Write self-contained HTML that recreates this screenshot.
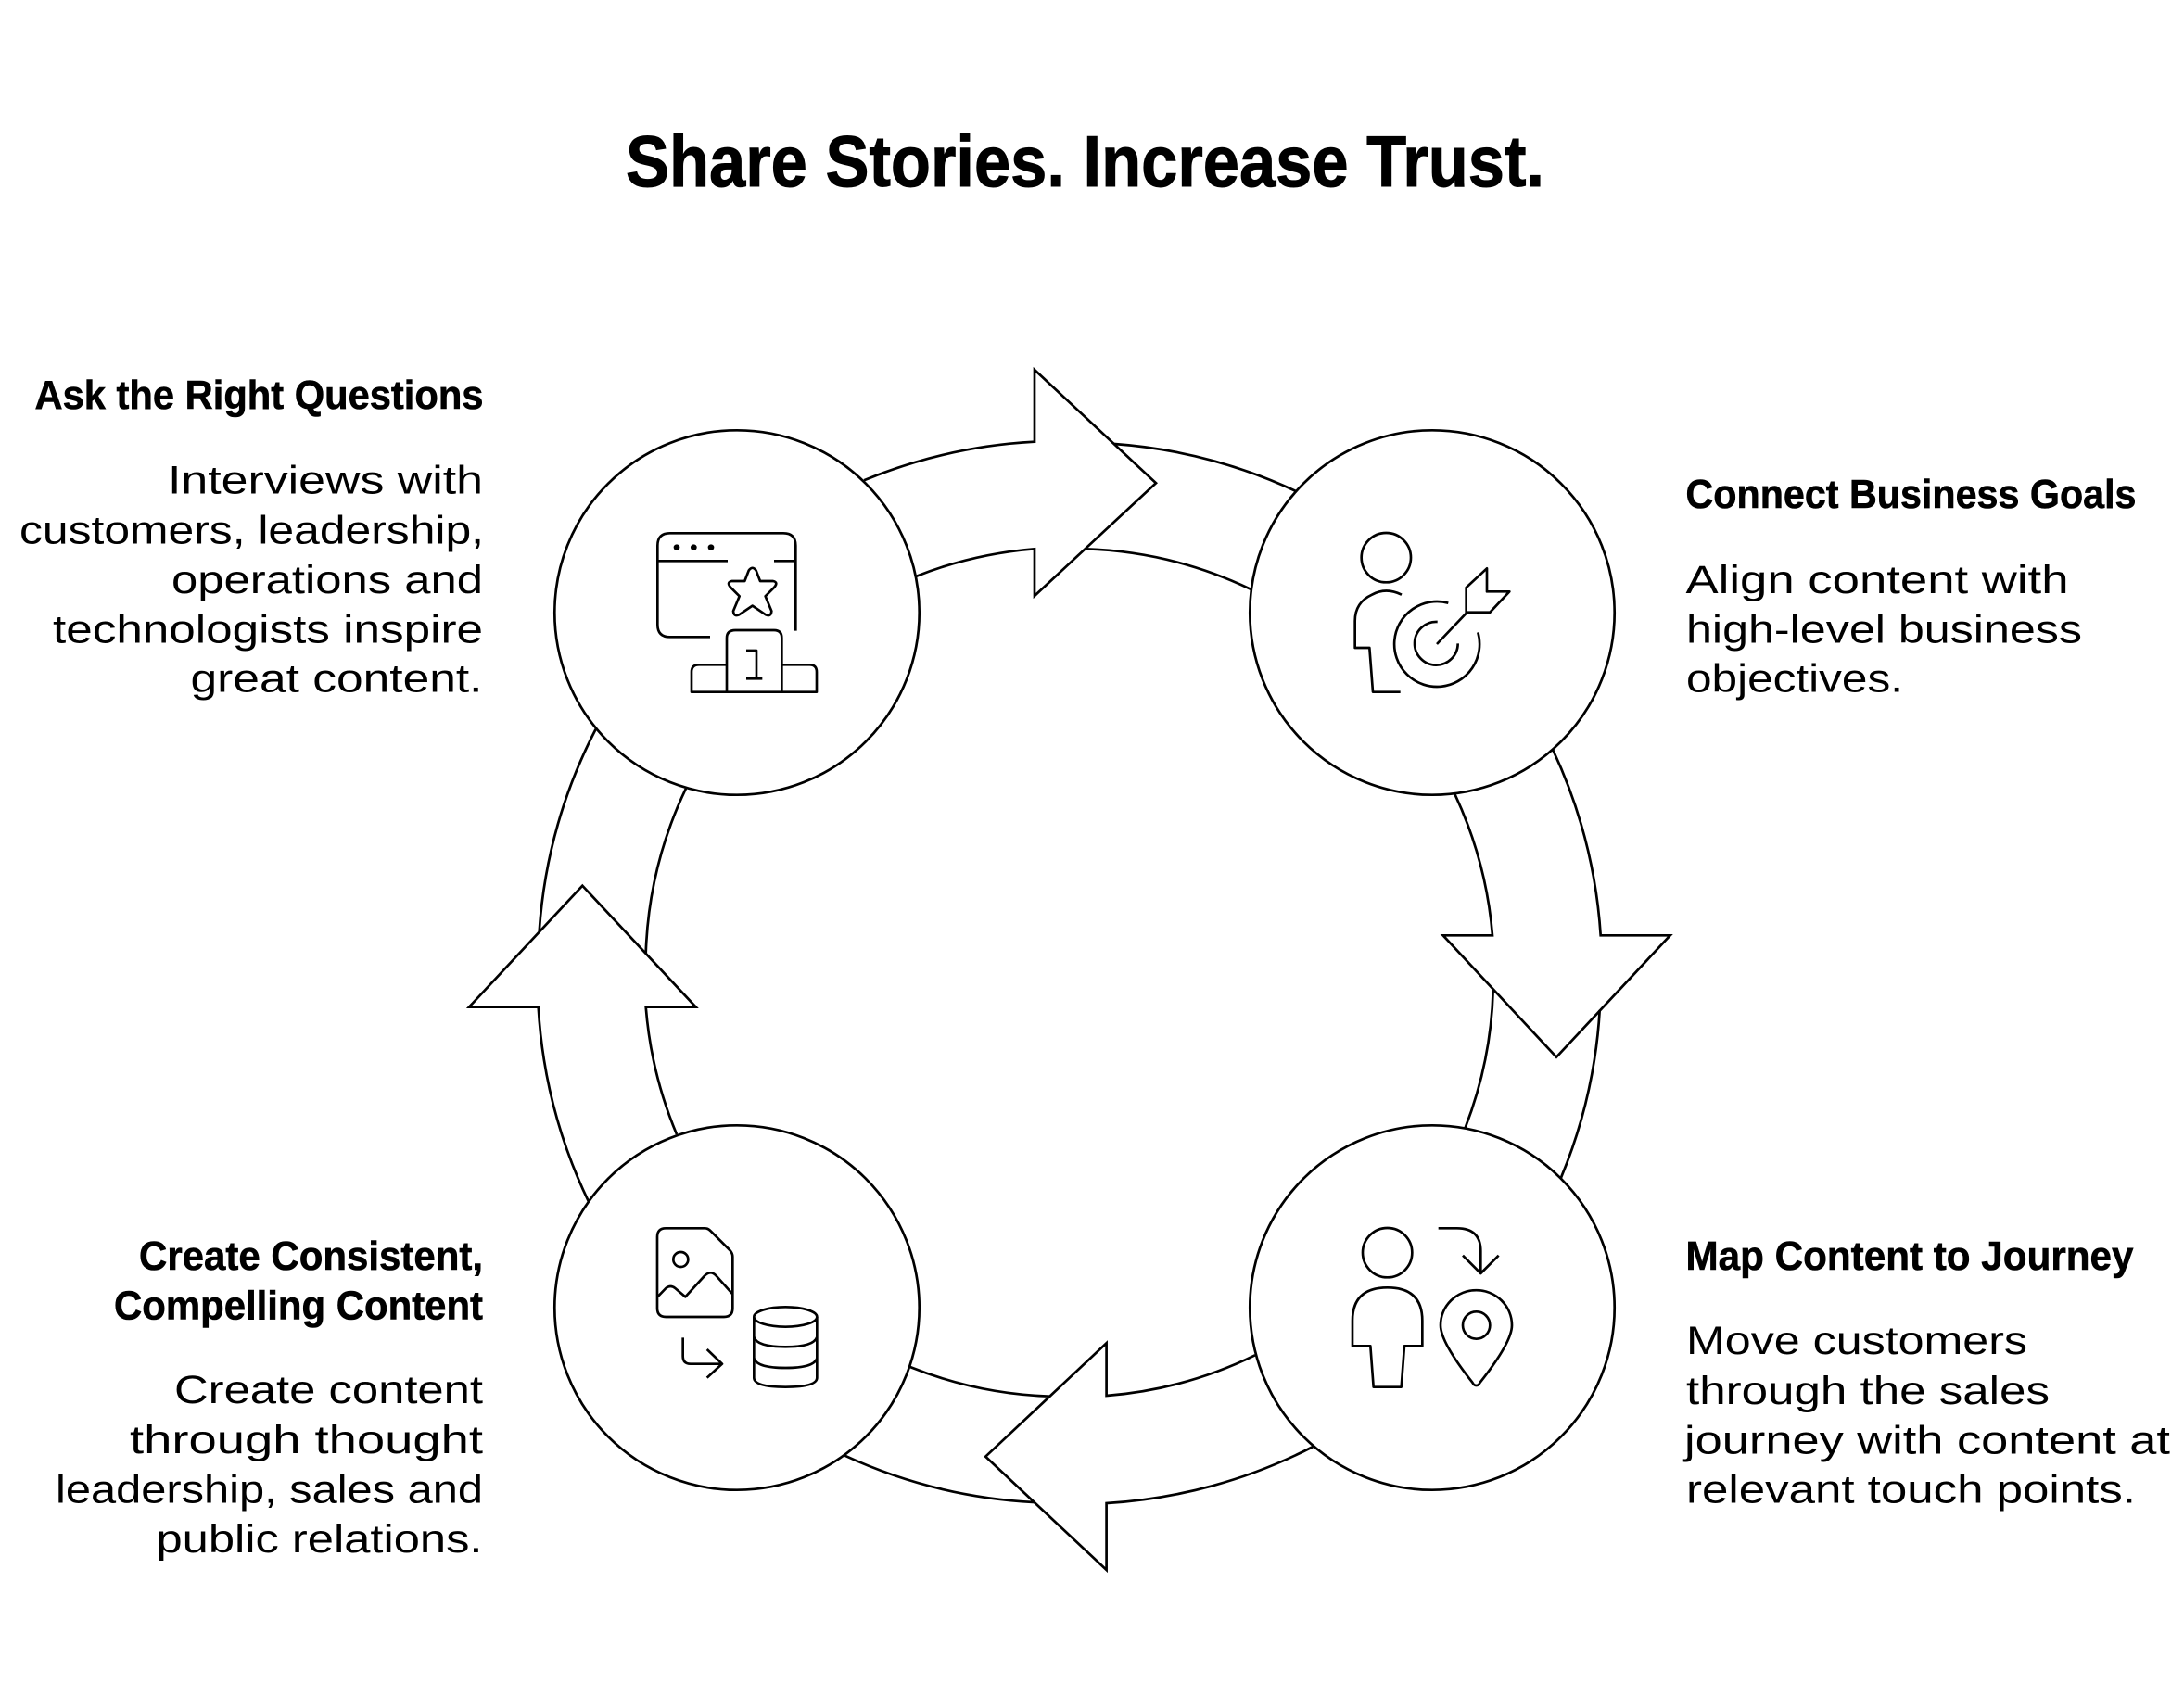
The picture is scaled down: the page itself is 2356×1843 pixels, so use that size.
<!DOCTYPE html>
<html lang="en">
<head>
<meta charset="utf-8">
<title>Share Stories. Increase Trust.</title>
<style>
html,body{margin:0;padding:0;background:#fff;width:2356px;height:1843px;overflow:hidden}
svg{display:block}
.l{fill:none;stroke:#000;stroke-width:2.7;stroke-linejoin:miter;stroke-linecap:butt}
.i{fill:none;stroke:#000;stroke-width:8;stroke-linejoin:round;stroke-linecap:butt}
text{fill:#000;font-family:"Liberation Sans",sans-serif}
.h{font-weight:700;font-size:44px;stroke:#000;stroke-width:.6}
.b{font-size:43px}
.t{font-weight:700;font-size:78px;stroke:#000;stroke-width:1}
</style>
</head>
<body>
<svg width="2356" height="1843" viewBox="0 0 2356 1843" xmlns="http://www.w3.org/2000/svg">
<rect width="2356" height="1843" fill="#fff"/>

<text class="t" x="675" y="201" textLength="991" lengthAdjust="spacingAndGlyphs">Share Stories. Increase Trust.</text>

<!-- Circles -->
<circle class="l" cx="795" cy="661" r="196.7"/>
<circle class="l" cx="1545" cy="661" r="196.7"/>
<circle class="l" cx="1545" cy="1411" r="196.7"/>
<circle class="l" cx="795" cy="1411" r="196.7"/>

<!-- Top arrow -->
<path class="l" d="M932.1,518.3 A558,558 0 0 1 1116,476.7 L1116,399 L1247,521.3 L1116,643 L1116,592.3 A445,445 0 0 0 988.6,621.7"/>
<path class="l" d="M1201.8,479 A558,558 0 0 1 1398,530"/>
<path class="l" d="M1171.4,592.3 A445,445 0 0 1 1349,635.7"/>

<!-- Right arrow -->
<path class="l" d="M1675.3,809.3 A558,558 0 0 1 1726.7,1009.3 L1801.7,1009.3 L1679,1140.7 L1556.7,1009.3 L1610,1009.3 A445,445 0 0 0 1569.3,856.7"/>
<path class="l" d="M1725.7,1090 A558,558 0 0 1 1684,1270.7"/>
<path class="l" d="M1610.7,1068.3 A445,445 0 0 1 1580.7,1216.7"/>

<!-- Bottom arrow -->
<path class="l" d="M1416.4,1561 A558,558 0 0 1 1193.6,1622 L1193.6,1694 L1063.2,1571.7 L1193.6,1449.3 L1193.6,1506 A445,445 0 0 0 1353.9,1462.3"/>
<path class="l" d="M1115.7,1621 A558,558 0 0 1 911.4,1570.7"/>
<path class="l" d="M1132.5,1506.7 A445,445 0 0 1 981.8,1475"/>

<!-- Left arrow -->
<path class="l" d="M635,1296.7 A558,558 0 0 1 580.7,1086.7 L506,1086.7 L628.3,955.7 L750.7,1086.7 L696.7,1086.7 A445,445 0 0 0 730,1224"/>
<path class="l" d="M581.7,1005 A558,558 0 0 1 642.7,786.7"/>
<path class="l" d="M696.7,1028.3 A445,445 0 0 1 740,850.7"/>

<!-- Icon 1: window, star, podium -->
<g transform="translate(580 450) scale(.33333)">
<path class="i" d="M558,712 H428 Q388,712 388,672 V416 Q388,376 428,376 H795 Q835,376 835,416 V692"/>
<path class="i" d="M390,466 H615 M765,466 H835"/>
<circle cx="450" cy="422" r="10"/><circle cx="505" cy="422" r="10"/><circle cx="561" cy="422" r="10"/>
<path class="i" d="M683,497 Q695,480 707,497 L720,531 H762 Q780,535 765,552 L737,580 L757,628 Q755,648 738,640 L695,611 L652,640 Q635,648 633,628 L653,580 L625,552 Q610,535 628,531 H670 Z"/>
<path class="i" d="M612,890 V715 Q612,690 640,690 H765 Q790,690 790,715 V890"/>
<path class="i" d="M612,802 H522 Q498,802 498,825 V890 H903 V825 Q903,802 880,802 H790"/>
<path class="i" d="M675,756 H708 V847 M675,847 H727"/>
</g>

<!-- Icon 2: person, target -->
<g transform="translate(1340 450) scale(.33333)">
<circle class="i" cx="466" cy="455" r="80"/>
<path class="i" d="M516,575 Q465,550 420,575 Q365,600 365,660 V747 H412 L423,890 H512"/>
<path class="i" d="M667,602 A138,138 0 1 0 763,697"/>
<path class="i" d="M632,663 A70,70 0 1 0 698,733"/>
<path class="i" d="M630,735 L725,635"/>
<path class="i" d="M725,632 V552 L792,490 V565 H865 L802,632 Z"/>
</g>

<!-- Icon 3: person, arrow, pin -->
<g transform="translate(1340 1200) scale(.33333)">
<circle class="i" cx="470" cy="455" r="80"/>
<path class="i" d="M357,757 V675 Q357,568 470,568 Q583,568 583,675 V757 H525 L515,890 H425 L415,757 Z"/>
<path class="i" d="M635,376 H695 Q772,376 772,450 V522 M714,464 L772,522 L830,464"/>
<path class="i" d="M758,885 Q750,885 745,875 Q642,745 642,690 A115,113 0 0 1 873,690 Q873,745 770,875 Q765,885 758,885 Z"/>
<circle class="i" cx="758" cy="690" r="44"/>
</g>

<!-- Icon 4: image doc, arrow, database -->
<g transform="translate(580 1200) scale(.33333)">
<path class="i" d="M415,376 H540 Q552,376 560,385 L622,447 Q631,457 631,468 V635 Q631,663 603,663 H415 Q387,663 387,635 V404 Q387,376 415,376 Z"/>
<circle class="i" cx="463" cy="477" r="24"/>
<path class="i" d="M388,598 L415,570 Q430,558 445,570 L478,598 L540,530 Q560,510 578,530 L630,588"/>
<path class="i" d="M470,730 V790 Q470,815 495,815 H595 M548,768 L597,815 L548,860"/>
<ellipse class="i" cx="802" cy="663" rx="102" ry="32"/>
<path class="i" d="M700,663 V860 Q700,890 802,890 Q904,890 904,860 V663"/>
<path class="i" d="M700,728 Q710,760 802,760 Q894,760 904,728"/>
<path class="i" d="M700,797 Q710,828 802,828 Q894,828 904,797"/>
</g>

<!-- Top-left text -->
<text class="h" x="37.5" y="441" textLength="484" lengthAdjust="spacingAndGlyphs">Ask the Right Questions</text>
<text class="b" x="181" y="532.7" textLength="340" lengthAdjust="spacingAndGlyphs">Interviews with</text>
<text class="b" x="21" y="586.7" textLength="501" lengthAdjust="spacingAndGlyphs">customers, leadership,</text>
<text class="b" x="185" y="640" textLength="336" lengthAdjust="spacingAndGlyphs">operations and</text>
<text class="b" x="57" y="693.3" textLength="464" lengthAdjust="spacingAndGlyphs">technologists inspire</text>
<text class="b" x="205.5" y="746.7" textLength="315" lengthAdjust="spacingAndGlyphs">great content.</text>

<!-- Top-right text -->
<text class="h" x="1818.5" y="548" textLength="486" lengthAdjust="spacingAndGlyphs">Connect Business Goals</text>
<text class="b" x="1818.5" y="640" textLength="413" lengthAdjust="spacingAndGlyphs">Align content with</text>
<text class="b" x="1819" y="693.3" textLength="427" lengthAdjust="spacingAndGlyphs">high-level business</text>
<text class="b" x="1819" y="746.7" textLength="234" lengthAdjust="spacingAndGlyphs">objectives.</text>

<!-- Bottom-right text -->
<text class="h" x="1818.5" y="1370" textLength="483" lengthAdjust="spacingAndGlyphs">Map Content to Journey</text>
<text class="b" x="1819" y="1461" textLength="368" lengthAdjust="spacingAndGlyphs">Move customers</text>
<text class="b" x="1819" y="1515" textLength="392" lengthAdjust="spacingAndGlyphs">through the sales</text>
<text class="b" x="1817" y="1568.3" textLength="524" lengthAdjust="spacingAndGlyphs">journey with content at</text>
<text class="b" x="1819" y="1621.7" textLength="485" lengthAdjust="spacingAndGlyphs">relevant touch points.</text>

<!-- Bottom-left text -->
<text class="h" x="150" y="1370" textLength="371" lengthAdjust="spacingAndGlyphs">Create Consistent,</text>
<text class="h" x="123" y="1423.3" textLength="398" lengthAdjust="spacingAndGlyphs">Compelling Content</text>
<text class="b" x="188" y="1514" textLength="333" lengthAdjust="spacingAndGlyphs">Create content</text>
<text class="b" x="140" y="1568" textLength="381" lengthAdjust="spacingAndGlyphs">through thought</text>
<text class="b" x="60" y="1621.5" textLength="461" lengthAdjust="spacingAndGlyphs">leadership, sales and</text>
<text class="b" x="168.5" y="1675" textLength="352" lengthAdjust="spacingAndGlyphs">public relations.</text>
</svg>
</body>
</html>
